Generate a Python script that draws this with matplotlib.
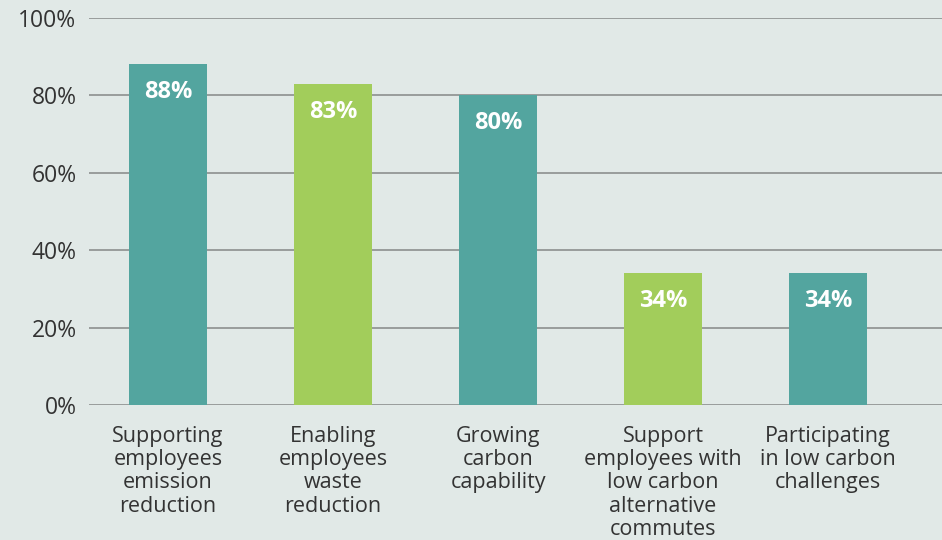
import numpy as np
import matplotlib.pyplot as plt

categories = [
    "Supporting\nemployees\nemission\nreduction",
    "Enabling\nemployees\nwaste\nreduction",
    "Growing\ncarbon\ncapability",
    "Support\nemployees with\nlow carbon\nalternative\ncommutes",
    "Participating\nin low carbon\nchallenges",
]
values = [88, 83, 80, 34, 34]
bar_colors = ["#53a59f", "#a2cd5b", "#53a59f", "#a2cd5b", "#53a59f"]
yticks = [0, 20, 40, 60, 80, 100]

bg = "#e1e9e7"
plt.rcParams['font.family'] = ['Open Sans', 'DejaVu Sans']

fig = plt.figure(figsize=(9.42, 5.4), dpi=100, facecolor=bg)
ax = fig.add_axes([0.0945, 0.25, 0.9055, 0.7167])
ax.set_facecolor(bg)

x = np.arange(len(values))
ax.bar(x, values, width=0.473, color=bar_colors, zorder=3)

for xi, v in zip(x, values):
    ax.annotate(f"{v}%", (xi, v), xytext=(0, -20), textcoords="offset points",
                ha="center", va="center", color="white", fontsize=17,
                fontweight="bold", zorder=4)

ax.set_xlim(-0.479, 4.69)
ax.set_ylim(0, 100)
ax.set_yticks(yticks)
ax.set_yticklabels([f"{t}%" for t in yticks], fontsize=16.5, color="#333333")
ax.yaxis.grid(True, color="#8c908f", linewidth=1.2, zorder=0)
ax.tick_params(axis="y", length=0, pad=9)
ax.tick_params(axis="x", length=0, pad=15)
ax.set_xticks(x)
ax.set_xticklabels(categories, fontsize=15.5, color="#333333", linespacing=1.14,
                   va="top", ha="center")
for s in ax.spines.values():
    s.set_visible(False)

fig.savefig("out.png", dpi=100, facecolor=bg)
